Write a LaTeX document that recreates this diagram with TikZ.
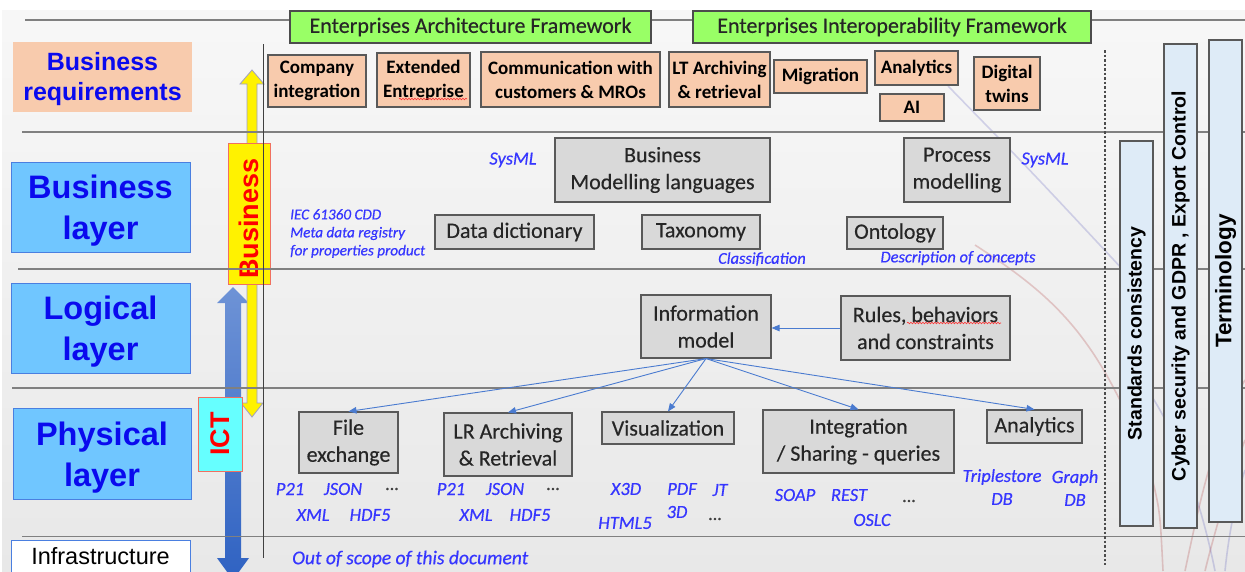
\documentclass[tikz,border=0pt]{standalone}
\usepackage{fontspec}
\setmainfont{Carlito}
\newfontfamily\regf[FakeBold=0.35]{Carlito}
\newfontfamily\notef[ItalicFeatures={FakeBold=0.5}]{Carlito}
\newfontfamily\arialf{Liberation Sans}
\usetikzlibrary{arrows.meta,decorations.pathmorphing}
\definecolor{peach}{HTML}{F8CBAD}
\definecolor{fwgreen}{HTML}{99FF66}
\definecolor{boxgray}{HTML}{D9D9D9}
\definecolor{layerblue}{HTML}{70C6FF}
\definecolor{layerborder}{HTML}{4A7FE0}
\definecolor{labelblue}{HTML}{0A0AEE}
\definecolor{noteblue}{HTML}{3636FF}
\definecolor{barblue}{HTML}{DEEBF7}
\definecolor{connblue}{HTML}{4A7BD0}
\definecolor{ictcyan}{HTML}{66FFFF}
\definecolor{redborder}{HTML}{F07060}
\definecolor{arrblueA}{HTML}{6E93D6}
\definecolor{arrblueB}{HTML}{2F62C2}
\tikzset{
  pbox/.style={draw=black!65, line width=1.1pt, fill=peach, align=center, inner sep=0pt,
    font=\fontsize{19}{24}\selectfont\bfseries, text=black},
  gbox/.style={draw=black!65, line width=1.1pt, fill=boxgray, align=center, inner sep=0pt,
    font=\regf\fontsize{22}{27}\selectfont, text=black!85},
  greenbox/.style={draw=black!70, line width=1.1pt, fill=fwgreen, inner sep=0pt,
    font=\regf\fontsize{22}{24}\selectfont, text=black!85},
  layerbox/.style={draw=layerborder, line width=0.9pt, fill=layerblue, inner sep=0pt},
  layertext/.style={align=center, inner sep=0pt,
    font=\arialf\bfseries\fontsize{32.5}{41}\selectfont, text=labelblue},
  note/.style={font=\notef\fontsize{18.5}{23}\selectfont\itshape, text=noteblue, inner sep=0pt, align=center},
  dots/.style={font=\regf\fontsize{18}{20}\selectfont, text=black!75, inner sep=0pt},
  barbox/.style={draw=black!65, line width=1.1pt, fill=barblue, inner sep=0pt, rotate=90,
    font=\arialf\bfseries\fontsize{19.5}{22}\selectfont, text=black},
  tagbox/.style={draw=redborder, line width=1pt, rotate=90, inner sep=0pt},
  tagtext/.style={rotate=90, inner sep=0pt, font=\arialf\bfseries\fontsize{27}{30}\selectfont, text=red},
  conn/.style={draw=connblue, line width=0.9pt, -{Triangle[length=8pt,width=6.5pt]}},
  sepline/.style={draw=black!50, line width=1.6pt},
  faintred/.style={draw=red!60!black, opacity=0.18, line width=1.6pt},
  faintblue/.style={draw=blue!60!black, opacity=0.15, line width=1.6pt},
  squiggle/.style={draw=red!80, line width=0.6pt, decorate, decoration={snake, amplitude=0.8pt, segment length=3pt}},
}
\begin{document}
\begin{tikzpicture}[x=1pt,y=-1pt]
\clip (0,0) rectangle (1245,571);
% background
\fill[white] (0,0) rectangle (1245,571);
\shade[top color=black!3, bottom color=black!9] (2,10) rectangle (1245,571);

% faint decorative curves
\draw[faintblue] (948,86) .. controls (1030,170) .. (1125,272);
\draw[faintred] (975,245) .. controls (1060,300) and (1100,340) .. (1150,470) .. controls (1160,510) .. (1163,571);
\draw[faintblue] (1140,380) .. controls (1180,430) and (1205,520) .. (1215,571);
\draw[faintred] (1245,380) .. controls (1215,430) and (1200,500) .. (1185,571);
\draw[faintred] (1245,440) .. controls (1230,480) and (1215,530) .. (1205,571);
\draw[faintblue] (1245,470) .. controls (1235,500) and (1228,540) .. (1225,571);

% blue ICT double arrow
\shade[top color=arrblueA, bottom color=arrblueB]
  (225,303) -- (217,303) -- (233,287) -- (249,303) -- (241,303) -- (241,558)
  -- (249,558) -- (233,580) -- (217,558) -- (225,558) -- cycle;
% yellow business double arrow
\path[draw=blue!25!gray!60, line width=0.8pt, fill=yellow]
  (247,84) -- (240,84) -- (252,70) -- (264,84) -- (257,84) -- (257,403)
  -- (263,403) -- (252,417) -- (241,403) -- (247,403) -- cycle;

% Business / ICT vertical tags
\node[tagbox, fill=yellow, minimum width=141pt, minimum height=42pt] (busTag) at (249,213.5) {};
\node[tagtext] (busTxt) at ([yshift=-5pt]busTag.center) {Business};
\node[tagbox, fill=ictcyan, minimum width=74pt, minimum height=44pt] (ictTag) at (220,434) {};
\node[tagtext] (ictTxt) at (ictTag.center) {ICT};

% separator lines
\draw[sepline] (25,20) -- (1245,20);
\draw[sepline] (22,132) -- (1245,132);
\draw[sepline] (18,269) -- (1245,269);
\draw[sepline] (12,388) -- (1245,388);
\draw[sepline] (22,536.5) -- (1245,536.5);
\draw[black!75, line width=0.9pt] (263,44) -- (263,558);
\draw[black!70, line width=1.1pt, dash pattern=on 2.5pt off 2pt] (1105,50) -- (1105,565);

% right vertical bars
\node[barbox, minimum width=385pt, minimum height=33pt] (sc) at (1136.5,333.5) {Standards consistency};
\node[barbox, minimum width=484pt, minimum height=33pt] (cy) at (1180.5,286) {Cyber security and GDPR , Export Control};
\node[barbox, minimum width=482pt, minimum height=33pt, font=\arialf\bfseries\fontsize{22.5}{24}\selectfont] (te) at (1225.5,281) {Terminology};

% framework boxes
\node[greenbox, minimum width=361pt, minimum height=32pt] (eaf) at (470.5,27) {Enterprises Architecture Framework};
\node[greenbox, minimum width=398pt, minimum height=32pt] (eif) at (892,27) {Enterprises Interoperability Framework};

% layer labels
\node[fill=peach, minimum width=179pt, minimum height=70pt, inner sep=0pt] (breq) at (102.5,77) {};
\node[align=center, inner sep=0pt, font=\arialf\bfseries\fontsize{25}{30.5}\selectfont, text=labelblue]
  (breqT) at ([yshift=-2pt]breq.center) {Business\\requirements};
\node[layerbox, minimum width=179pt, minimum height=90pt] (bl) at (100.5,207) {};
\node[layertext] (blT) at ([yshift=-4pt]bl.center) {Business\\layer};
\node[layerbox, minimum width=179pt, minimum height=90pt] (ll) at (100.5,328) {};
\node[layertext] (llT) at ([yshift=-4pt]ll.center) {Logical\\layer};
\node[layerbox, minimum width=178pt, minimum height=91pt] (pl) at (102,453.5) {};
\node[layertext] (plT) at ([yshift=-4pt]pl.center) {Physical\\layer};
\node[draw=layerborder, line width=0.9pt, fill=white, minimum width=179pt, minimum height=40pt, inner sep=0pt,
  anchor=north] (inf) at (100.5,540) {};
\node[font=\arialf\fontsize{23.5}{26}\selectfont, text=black, inner sep=0pt] (infT) at (100.5,556) {Infrastructure};

% business requirement boxes
\node[pbox, minimum width=98pt, minimum height=52pt] (ci) at (317,81) {Company\\integration};
\node[pbox, minimum width=93pt, minimum height=54pt] (ee) at (423.5,80) {Extended\\Entreprise};
\node[pbox, minimum width=179pt, minimum height=55pt] (cm) at (570.5,79.5) {Communication with\\customers \& MROs};
\node[pbox, minimum width=101pt, minimum height=55pt] (lt) at (719.5,79.5) {LT Archiving\\\& retrieval};
\node[pbox, minimum width=93pt, minimum height=33pt] (mig) at (820.5,76.5) {Migration};
\node[pbox, minimum width=83pt, minimum height=34pt] (anaA) at (916.5,68) {Analytics};
\node[pbox, minimum width=64pt, minimum height=27pt] (ai) at (912,107.5) {AI};
\node[pbox, minimum width=66pt, minimum height=53pt] (dt) at (1007,83.5) {Digital\\twins};
\draw[squiggle] (399,99) -- (467,99);

% business layer
\node[gbox, minimum width=215pt, minimum height=64pt] (bml) at (662.5,170) {Business\\Modelling languages};
\node[gbox, minimum width=106pt, minimum height=64pt] (pm) at (957,170) {Process\\modelling};
\node[gbox, minimum width=159pt, minimum height=34pt] (dd) at (514.5,232) {Data dictionary};
\node[gbox, minimum width=118pt, minimum height=34pt] (tax) at (701,232) {Taxonomy};
\node[gbox, minimum width=96pt, minimum height=32pt] (ont) at (895,233) {Ontology};
\node[note] (sysA) at (513,160) {SysML};
\node[note] (sysB) at (1045,160) {SysML};
\node[note, anchor=west, align=left, font=\notef\fontsize{15.2}{18}\selectfont\itshape] (iec) at (290,233.5)
  {IEC 61360 CDD\\Meta data registry\\for properties product};
\node[note, font=\notef\fontsize{16.5}{20}\selectfont\itshape] (cls) at (762,259) {Classification};
\node[note, font=\notef\fontsize{16.5}{20}\selectfont\itshape] (doc) at (958,258) {Description of concepts};

% logical layer
\node[gbox, minimum width=130pt, minimum height=63pt] (im) at (706,326.5) {Information\\model};
\node[gbox, minimum width=169pt, minimum height=64pt] (rules) at (925.5,328) {Rules, behaviors\\and constraints};
\draw[squiggle] (907,323) -- (1001,323);

% physical layer
\node[gbox, minimum width=99pt, minimum height=61pt] (fe) at (348.5,442.5) {File\\exchange};
\node[gbox, minimum width=128pt, minimum height=63pt] (lr) at (508,444.5) {LR Archiving\\\& Retrieval};
\node[gbox, minimum width=132pt, minimum height=32pt] (vis) at (668,428) {Visualization};
\node[gbox, minimum width=191pt, minimum height=63pt] (int) at (858.5,441.5) {Integration\\/ Sharing - queries};
\node[gbox, minimum width=95pt, minimum height=33pt] (anaB) at (1034.5,426.5) {Analytics};

% connectors
\draw[conn] (rules.west) -- (im.east |- rules.west);
\draw[conn] (im.south) -- (fe.north);
\draw[conn] (im.south) -- (lr.north);
\draw[conn] (im.south) -- (vis.north);
\draw[conn] (im.south) -- (int.north);
\draw[conn] (im.south) -- (anaB.north);

% physical layer notes
\node[note] (p21a) at (290,489) {P21};
\node[note] (jsona) at (343,489) {JSON};
\node[dots] (dota) at (392,489) {...};
\node[note] (xmla) at (313,515) {XML};
\node[note] (hdfa) at (370,515) {HDF5};
\node[note] (p21b) at (451,489) {P21};
\node[note] (jsonb) at (505,489) {JSON};
\node[dots] (dotb) at (553,489) {...};
\node[note] (xmlb) at (476,515) {XML};
\node[note] (hdfb) at (530,515) {HDF5};
\node[note] (x3d) at (626,489) {X3D};
\node[note] (pdf) at (682,489) {PDF};
\node[note] (jt) at (720,490) {JT};
\node[note] (threed) at (677,512) {3D};
\node[note] (html) at (625,523) {HTML5};
\node[dots] (dotc) at (715,519) {...};
\node[note] (soap) at (795,495) {SOAP};
\node[note] (rest) at (849,495) {REST};
\node[dots] (dotd) at (909,501) {...};
\node[note] (oslc) at (872,520) {OSLC};
\node[note] (tri) at (1002,487) {Triplestore\\DB};
\node[note] (gdb) at (1075,488) {Graph\\DB};
\node[note, anchor=west, font=\notef\fontsize{19.5}{22}\selectfont\itshape] (oos) at (292,559) {Out of scope of this document};
\end{tikzpicture}
\end{document}
